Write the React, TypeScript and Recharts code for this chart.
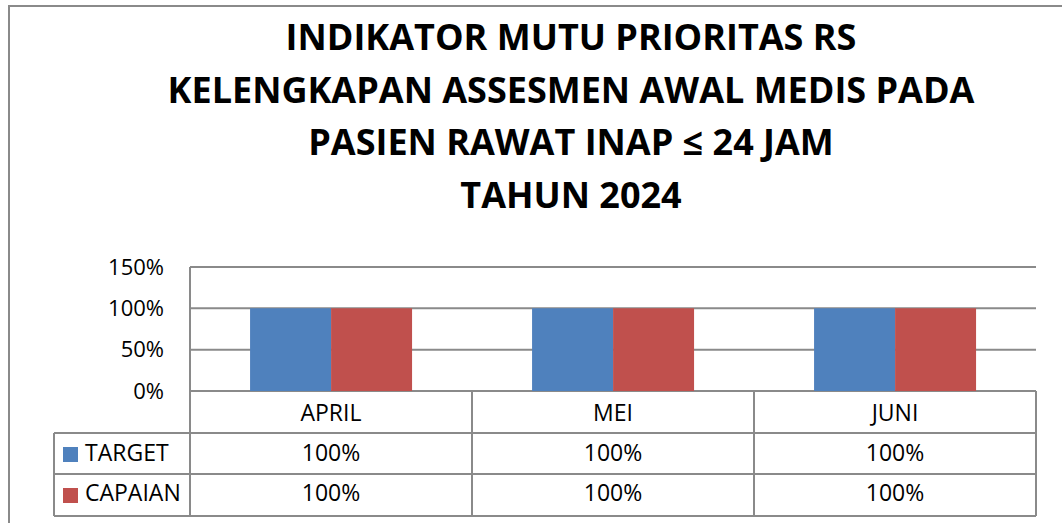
import { Bar, BarChart, CartesianGrid, XAxis, YAxis } from "recharts";

const titleLines = [
  "INDIKATOR MUTU PRIORITAS RS",
  "KELENGKAPAN ASSESMEN AWAL MEDIS PADA",
  "PASIEN RAWAT INAP ≤ 24 JAM",
  "TAHUN 2024",
];

const months = ["APRIL", "MEI", "JUNI"];
const target = [1, 1, 1];
const capaian = [1, 1, 1];
const yTicks = [0, 0.5, 1, 1.5];

const series = [
  { key: "target", name: "TARGET", color: "#4F81BD", values: target },
  { key: "capaian", name: "CAPAIAN", color: "#C0504D", values: capaian },
];

const data = months.map((month, i) => ({
  month,
  target: target[i],
  capaian: capaian[i],
}));

const W = 1062;
const H = 523;
const PLOT_LEFT = 190;
const PLOT_RIGHT = 1036;
const PLOT_TOP = 267;
const TABLE_H = 125;
const ROWS = [0, 42, 83, 125];
const LEGEND_W = 136;
const LINE = "#8a8a8a";
const FONT = "'Open Sans', 'Liberation Sans', sans-serif";

const pct = (v: number) => `${Math.round(v * 100)}%`;

// x-axis tick renders one column of the data table under its category
// biome-ignore lint/suspicious/noExplicitAny: recharts tick props are runtime-shaped.
function TableTick({ x, y, payload, index }: any) {
  const band = (PLOT_RIGHT - PLOT_LEFT) / months.length;
  const left = x - band / 2;
  const right = x + band / 2;
  const i = payload.index ?? index;

  return (
    <g>
      <text x={x} y={y + 30} textAnchor="middle" fontSize={23} fill="#000">
        {payload.value}
      </text>
      {series.map((s, r) => (
        <text key={s.key} x={x} y={y + 70 + r * 40} textAnchor="middle" fontSize={23} fill="#000">
          {pct(s.values[i])}
        </text>
      ))}
      {ROWS.slice(1).map((dy) => (
        <line key={dy} x1={left} x2={right} y1={y + dy} y2={y + dy} stroke={LINE} strokeWidth={2} />
      ))}
      <line x1={right} x2={right} y1={y} y2={y + TABLE_H} stroke={LINE} strokeWidth={2} />
      {index === 0 && (
        <g>
          <line x1={left} x2={left} y1={y} y2={y + TABLE_H} stroke={LINE} strokeWidth={2} />
          <line x1={left - LEGEND_W} x2={left - LEGEND_W} y1={y + ROWS[1]} y2={y + TABLE_H} stroke={LINE} strokeWidth={2} />
          {ROWS.slice(1).map((dy) => (
            <line key={dy} x1={left - LEGEND_W} x2={left} y1={y + dy} y2={y + dy} stroke={LINE} strokeWidth={2} />
          ))}
          {series.map((s, r) => (
            <g key={s.key}>
              <rect x={left - LEGEND_W + 9} y={y + 56 + r * 41} width={15} height={15} fill={s.color} />
              <text x={left - LEGEND_W + 31} y={y + 70 + r * 40} fontSize={23} fill="#000">
                {s.name}
              </text>
            </g>
          ))}
        </g>
      )}
    </g>
  );
}

export default function App() {
  return (
    <div
      style={{
        position: "absolute",
        left: 0,
        top: 0,
        width: W,
        height: H,
        overflow: "hidden",
        background: "#fff",
        fontFamily: FONT,
      }}
    >
      <div
        style={{
          position: "absolute",
          left: 8,
          top: 5,
          width: 1200,
          height: 700,
          border: `2px solid ${LINE}`,
        }}
      />
      <svg width={W} height={230} style={{ position: "absolute", left: 0, top: 0 }}>
        {titleLines.map((line, i) => (
          <text
            key={line}
            x={571}
            y={50 + i * 52.5}
            textAnchor="middle"
            fontSize={36}
            fontWeight="bold"
            fontFamily={FONT}
            fill="#000"
          >
            {line}
          </text>
        ))}
      </svg>
      <div style={{ position: "absolute", left: 0, top: 0 }}>
        <BarChart
          width={W}
          height={H}
          data={data}
          margin={{ top: PLOT_TOP, right: W - PLOT_RIGHT, left: 0, bottom: 7 }}
          barCategoryGap="21.3%"
          barGap={0}
          style={{ fontFamily: FONT }}
        >
          <CartesianGrid vertical={false} stroke={LINE} strokeWidth={2} />
          <YAxis
            width={PLOT_LEFT}
            domain={[0, 1.5]}
            ticks={yTicks}
            tickFormatter={pct}
            tick={{ fill: "#000", fontSize: 22 }}
            tickLine={false}
            tickSize={0}
            tickMargin={26}
            axisLine={{ stroke: LINE, strokeWidth: 2 }}
          />
          <XAxis
            dataKey="month"
            height={TABLE_H}
            interval={0}
            tickLine={false}
            tickSize={0}
            tickMargin={0}
            axisLine={false}
            tick={<TableTick />}
          />
          {series.map((s) => (
            <Bar key={s.key} dataKey={s.key} name={s.name} fill={s.color} isAnimationActive={false} />
          ))}
        </BarChart>
      </div>
    </div>
  );
}
